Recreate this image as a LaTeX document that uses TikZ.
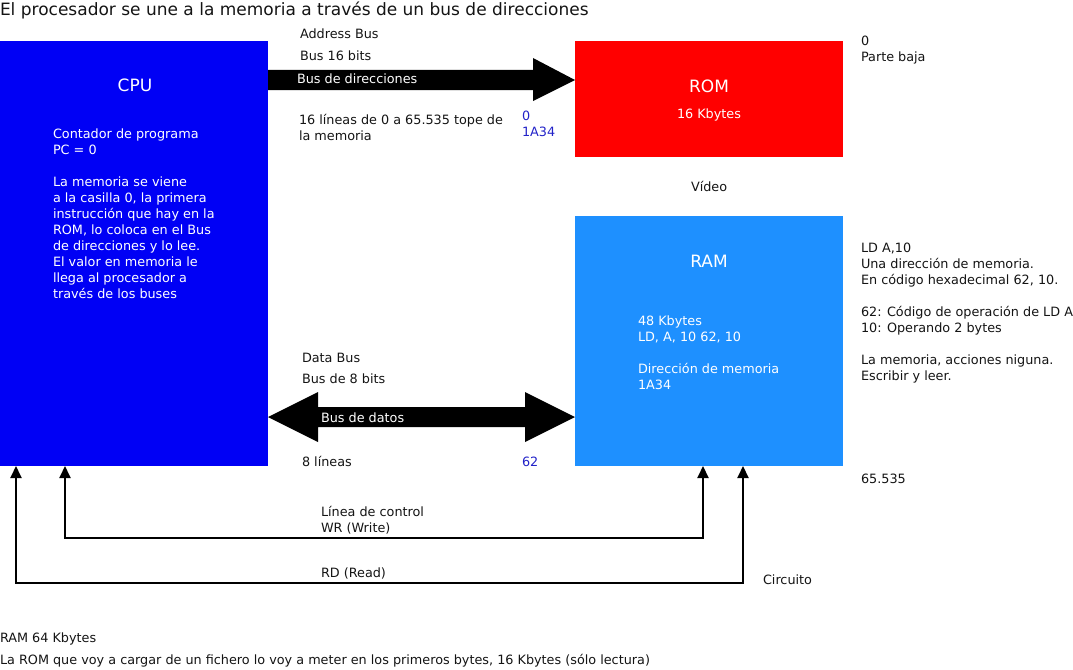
\documentclass[tikz,border=0pt]{standalone}
\usepackage{fontspec}
\setmainfont{DejaVu Sans}
\usetikzlibrary{arrows.meta,calc}
\definecolor{cpublue}{RGB}{0,0,245}
\definecolor{romred}{RGB}{255,0,0}
\definecolor{ramblue}{RGB}{30,144,255}
\definecolor{lblblue}{RGB}{34,34,200}
\definecolor{txt}{RGB}{20,20,20}
\tikzset{
  box/.style={draw=none,inner sep=0,outer sep=0},
  txtn/.style={inner sep=0,outer sep=0,text=txt,font=\fontsize{12.8}{16}\selectfont,align=left},
  wtxt/.style={txtn,text=white},
  head/.style={inner sep=0,outer sep=0,font=\fontsize{17}{20}\selectfont},
  ctl/.style={line width=2pt,{Triangle[length=12pt,width=11pt]}-{Triangle[length=12pt,width=11pt]}},
}
\begin{document}
\begin{tikzpicture}[x=1pt,y=-1pt]
\useasboundingbox (0,0) rectangle (1073,669);
% boxes
\node[box,fill=cpublue,minimum width=268pt,minimum height=425pt,anchor=north west] (cpu) at (0,41) {};
\node[box,fill=romred,minimum width=268pt,minimum height=116pt,anchor=north west] (rom) at (575,41) {};
\node[box,fill=ramblue,minimum width=268pt,minimum height=250pt,anchor=north west] (ram) at (575,216) {};
% title
\node[head,text=txt,anchor=base west] (title) at (0,16) {El procesador se une a la memoria a través de un bus de direcciones};
% box headings
\node[head,text=white] (cpul) at (135,85) {CPU};
\node[head,text=white] (roml) at (709,86) {ROM};
\node[wtxt] (romk) at (709,115) {16 Kbytes};
\node[head,text=white] (raml) at (709,261) {RAM};
% CPU text
\node[wtxt,anchor=north west] (cput) at (53,129) {Contador de programa\\PC = 0\\[16pt]La memoria se viene\\a la casilla 0, la primera\\instrucción que hay en la\\ROM, lo coloca en el Bus\\de direcciones y lo lee.\\El valor en memoria le\\llega al procesador a\\través de los buses};
% RAM text
\node[wtxt,anchor=north west] (ramt) at (638,316) {48 Kbytes\\LD, A, 10 62, 10\\[16pt]Dirección de memoria\\1A34};
% address bus
\coordinate (abs) at (cpu.east |- 0,80);
\coordinate (abe) at (rom.west |- 0,80);
\fill[black] ($(abs)+(0,-10)$) -- ($(abe)+(-42,-10)$) -- ($(abe)+(-42,-22)$) -- (abe) -- ($(abe)+(-42,21)$) -- ($(abe)+(-42,10)$) -- ($(abs)+(0,10)$) -- cycle;
\node[txtn,anchor=base west] (abus) at (300,38) {Address Bus};
\node[txtn,anchor=base west] (ab16) at (300,61) {Bus 16 bits};
\node[wtxt,anchor=base west] (abdir) at (297,84) {Bus de direcciones};
\node[txtn,anchor=north west] (ablin) at (299,114) {16 líneas de 0 a 65.535 tope de\\la memoria};
\node[txtn,text=lblblue,anchor=north west] (ab0) at (522,111) {0\\1A34};
% data bus
\coordinate (dbs) at (cpu.east |- 0,417);
\coordinate (dbe) at (ram.west |- 0,417);
\fill[black] (dbs) -- ($(dbs)+(50,-25)$) -- ($(dbs)+(50,-10)$) -- ($(dbe)+(-50,-10)$) -- ($(dbe)+(-50,-25)$) -- (dbe) -- ($(dbe)+(-50,25)$) -- ($(dbe)+(-50,10)$) -- ($(dbs)+(50,10)$) -- ($(dbs)+(50,25)$) -- cycle;
\node[txtn,anchor=base west] (dbus) at (302,362) {Data Bus};
\node[txtn,anchor=base west] (db8) at (302,383) {Bus de 8 bits};
\node[wtxt,anchor=base west] (dbdat) at (321,422) {Bus de datos};
\node[txtn,anchor=base west] (dblin) at (302,466) {8 líneas};
\node[txtn,text=lblblue,anchor=base west] (db62) at (522,466) {62};
% misc
\node[txtn,anchor=base west] (video) at (691,191) {Vídeo};
\node[txtn,anchor=north west] (pbaja) at (861,36) {0\\Parte baja};
\node[txtn,anchor=north west] (ldtxt) at (861,243) {LD A,10\\Una dirección de memoria.\\En código hexadecimal 62, 10.\\[16pt]62: Código de operación de LD A\\10: Operando 2 bytes\\[16pt]La memoria, acciones niguna.\\Escribir y leer.};
\node[txtn,anchor=base west] (top) at (861,483) {65.535};
% control lines
\draw[ctl] ([xshift=65pt]cpu.south west) -- ++(0,72) coordinate (wrc) -| ([xshift=128pt]ram.south west);
\draw[ctl] ([xshift=16pt]cpu.south west) -- ++(0,117) coordinate (rdc) -| ([xshift=168pt]ram.south west);
\node[txtn,anchor=north west] (wrl) at (321,506) {Línea de control\\WR (Write)};
\node[txtn,anchor=base west] (rdl) at (321,577) {RD (Read)};
\node[txtn,anchor=base west] (circ) at (763,584) {Circuito};
% footer
\node[txtn,anchor=base west] (f1) at (0,642) {RAM 64 Kbytes};
\node[txtn,anchor=base west] (f2) at (0,664) {La ROM que voy a cargar de un fichero lo voy a meter en los primeros bytes, 16 Kbytes (sólo lectura)};
\end{tikzpicture}
\end{document}
